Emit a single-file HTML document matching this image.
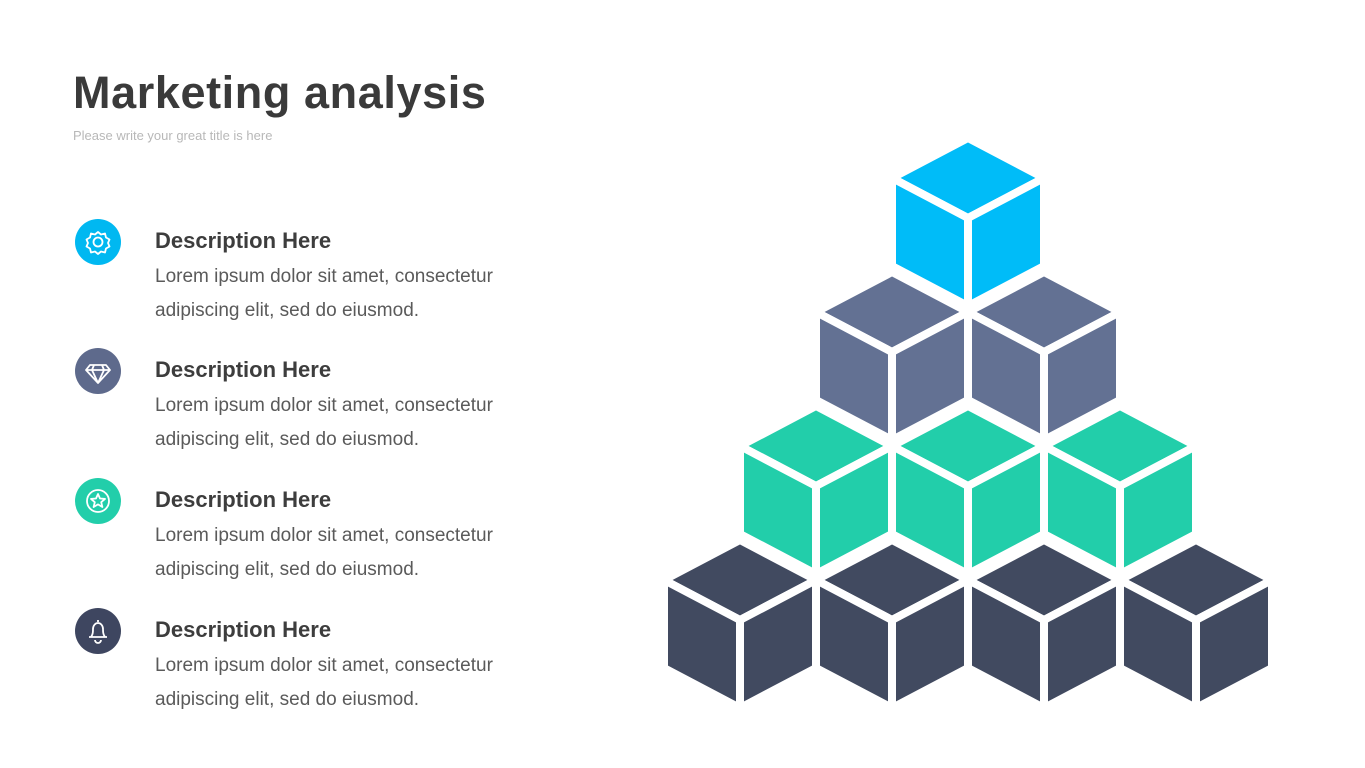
<!DOCTYPE html>
<html><head><meta charset="utf-8"><style>
html,body{margin:0;padding:0;background:#fff;}
body{width:1365px;height:768px;position:relative;overflow:hidden;font-family:"Liberation Sans",sans-serif;}
.title{position:absolute;left:73px;top:67px;font-size:45px;font-weight:bold;color:#3a3a3a;letter-spacing:0.6px;white-space:nowrap;}
.sub{position:absolute;left:73px;top:128px;font-size:13px;color:#b8b8b8;white-space:nowrap;}
.h{position:absolute;left:155px;font-size:22px;font-weight:bold;color:#3d3d3d;white-space:nowrap;}
.p{position:absolute;left:155px;font-size:19px;color:#5a5a5a;line-height:34px;white-space:nowrap;letter-spacing:0px;}
svg{position:absolute;left:0;top:0;}
</style></head><body>
<div class="title">Marketing analysis</div>
<div class="sub">Please write your great title is here</div>

<div class="h" style="top:228px">Description Here</div>
<div class="p" style="top:260px">Lorem ipsum dolor sit amet, consectetur<br>adipiscing elit, sed do eiusmod.</div>
<div class="h" style="top:357px">Description Here</div>
<div class="p" style="top:389px">Lorem ipsum dolor sit amet, consectetur<br>adipiscing elit, sed do eiusmod.</div>
<div class="h" style="top:487px">Description Here</div>
<div class="p" style="top:519px">Lorem ipsum dolor sit amet, consectetur<br>adipiscing elit, sed do eiusmod.</div>
<div class="h" style="top:617px">Description Here</div>
<div class="p" style="top:649px">Lorem ipsum dolor sit amet, consectetur<br>adipiscing elit, sed do eiusmod.</div>

<svg width="1365" height="768" viewBox="0 0 1365 768">
<g fill="none" stroke="#fff" stroke-width="1.8" stroke-linejoin="round">
<circle cx="98" cy="242" r="23" fill="#00b8f1" stroke="none"/>
<circle cx="98" cy="242" r="4.5"/>
<path d="M98 232 l3 2.5 4-1 1 4 3.5 2-1.5 3.5 1.5 3.5-3.5 2-1 4-4-1-3 2.5-3-2.5-4 1-1-4-3.5-2 1.5-3.5-1.5-3.5 3.5-2 1-4 4 1z"/>
<circle cx="98" cy="371" r="23" fill="#5e6a8c" stroke="none"/>
<path d="M90 365 h16 l4 5 -12 13 -12-13z M86 370 h24 M94 365 l-2 5 6 13 6-13 -2-5"/>
<circle cx="98" cy="501" r="23" fill="#22ceaa" stroke="none"/>
<circle cx="98" cy="501" r="11"/>
<path d="M98 494 l2 4.5 5 .4-3.8 3.3 1.2 4.8-4.4-2.6-4.4 2.6 1.2-4.8-3.8-3.3 5-.4z"/>
<circle cx="98" cy="631" r="23" fill="#3e4660" stroke="none"/>
<path d="M98 620 v2 M91 637 c2-3 2-5 2-8 0-3 2-6 5-6s5 3 5 6c0 3 0 5 2 8z M89 637 h18 M95 640 a3 3 0 0 0 6 0"/>
</g>
<g id="cubes" stroke="#fff" stroke-width="8" stroke-linejoin="miter"></g>
</svg>
<script>
var g=document.getElementById('cubes');
var a=76,b=40,h=88;
var rows=[{c:'#00bcf8',y:138,x:[968]},{c:'#637193',y:272,x:[892,1044]},{c:'#22ceaa',y:406,x:[816,968,1120]},{c:'#414a60',y:540,x:[740,892,1044,1196]}];
var s='';
rows.forEach(function(r){r.x.forEach(function(cx){var y=r.y;
s+='<polygon fill="'+r.c+'" points="'+cx+','+y+' '+(cx+a)+','+(y+b)+' '+cx+','+(y+2*b)+' '+(cx-a)+','+(y+b)+'"/>';
s+='<polygon fill="'+r.c+'" points="'+(cx-a)+','+(y+b)+' '+cx+','+(y+2*b)+' '+cx+','+(y+2*b+h)+' '+(cx-a)+','+(y+b+h)+'"/>';
s+='<polygon fill="'+r.c+'" points="'+(cx+a)+','+(y+b)+' '+cx+','+(y+2*b)+' '+cx+','+(y+2*b+h)+' '+(cx+a)+','+(y+b+h)+'"/>';
});});
g.innerHTML=s;
</script>
</body></html>
